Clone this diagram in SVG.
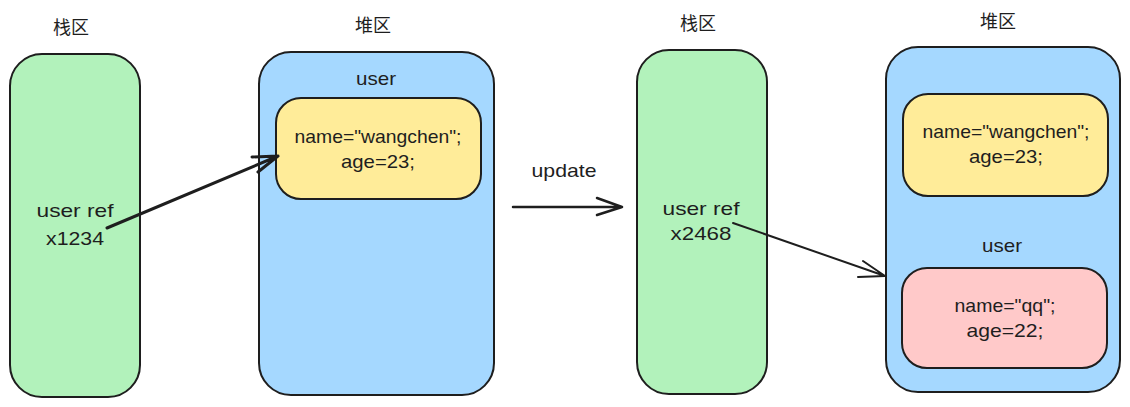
<svg xmlns="http://www.w3.org/2000/svg" width="1130" height="407" viewBox="0 0 1130 407">
<style>
.box{stroke:#1e1e1e;stroke-width:2;stroke-linejoin:round}
.stack{fill:#b2f2bb}
.heap{fill:#a5d8ff}
.obj1{fill:#ffec99}
.obj2{fill:#ffc9c9}
.t{font-family:"Liberation Sans","Noto Sans",sans-serif;font-size:19px;fill:#1e1e1e;text-anchor:middle}
.cjk{font-family:"Noto Sans CJK SC","Noto Sans",sans-serif;font-size:18px;fill:#1e1e1e;text-anchor:middle}
.conn{fill:none;stroke:#1e1e1e;stroke-linecap:round;stroke-linejoin:round}
</style>
<rect width="1130" height="407" fill="#ffffff"/>

<g id="label-stack-1"><text class="cjk" x="71" y="34">栈区</text></g>
<g id="label-heap-1"><text class="cjk" x="373" y="32">堆区</text></g>
<g id="label-stack-2"><text class="cjk" x="698" y="30">栈区</text></g>
<g id="label-heap-2"><text class="cjk" x="998" y="28">堆区</text></g>

<g id="stack-1">
<rect class="box stack" x="10" y="54" width="130" height="343" rx="32"/>
<text class="t" x="75" y="217" textLength="77" lengthAdjust="spacingAndGlyphs">user ref</text>
<text class="t" x="75" y="245" textLength="58" lengthAdjust="spacingAndGlyphs">x1234</text>
</g>

<g id="heap-1">
<rect class="box heap" x="259" y="52" width="235" height="343" rx="32"/>
<text class="t" x="376" y="85" textLength="40" lengthAdjust="spacingAndGlyphs">user</text>
</g>

<g id="object-1">
<rect class="box obj1" x="276" y="98" width="205" height="101" rx="25"/>
<text class="t" x="378" y="143" textLength="167" lengthAdjust="spacingAndGlyphs">name="wangchen";</text>
<text class="t" x="378" y="168" textLength="74" lengthAdjust="spacingAndGlyphs">age=23;</text>
</g>

<g id="label-update"><text class="t" x="564" y="177" textLength="65" lengthAdjust="spacingAndGlyphs">update</text></g>

<g id="stack-2">
<rect class="box stack" x="637" y="50" width="130" height="344" rx="32"/>
<text class="t" x="701" y="215" textLength="77" lengthAdjust="spacingAndGlyphs">user ref</text>
<text class="t" x="701" y="240" textLength="61" lengthAdjust="spacingAndGlyphs">x2468</text>
</g>

<g id="heap-2">
<rect class="box heap" x="886" y="47" width="234" height="345" rx="32"/>
<text class="t" x="1002" y="252" textLength="40" lengthAdjust="spacingAndGlyphs">user</text>
</g>

<g id="object-2">
<rect class="box obj1" x="903" y="94" width="205" height="102" rx="25"/>
<text class="t" x="1006" y="138" textLength="167" lengthAdjust="spacingAndGlyphs">name="wangchen";</text>
<text class="t" x="1006" y="163" textLength="74" lengthAdjust="spacingAndGlyphs">age=23;</text>
</g>

<g id="object-3">
<rect class="box obj2" x="902" y="268" width="205" height="100" rx="25"/>
<text class="t" x="1005" y="312" textLength="101" lengthAdjust="spacingAndGlyphs">name="qq";</text>
<text class="t" x="1005" y="337" textLength="77" lengthAdjust="spacingAndGlyphs">age=22;</text>
</g>

<g id="connectors">
<path class="conn" stroke-width="3" d="M107 228 L278 156 M252 157 L278 156 L258 172"/>
<path class="conn" stroke-width="2.5" d="M513 207 L622 207 M597 198 L622 207 L597 215"/>
<path class="conn" stroke-width="2" d="M733 223 L885 276 M863 261 L885 276 L858 277"/>
</g>
</svg>
